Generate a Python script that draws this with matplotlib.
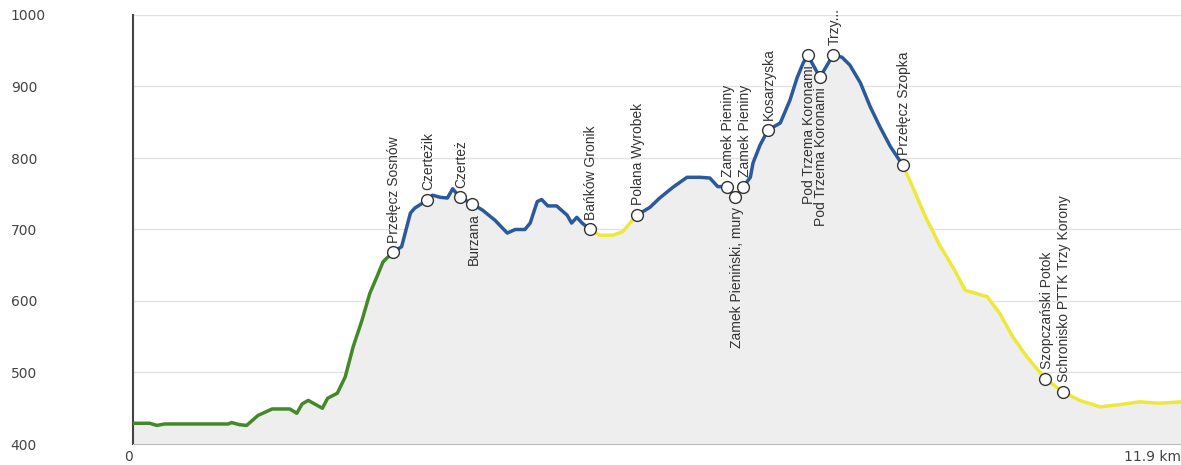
import matplotlib
matplotlib.use('Agg')
import matplotlib.pyplot as plt

# profile data: distance [km], elevation [m]
green_km = [0.00, 0.19, 0.27, 0.36, 0.76, 1.08, 1.12, 1.21, 1.29, 1.42, 1.58, 1.78, 1.86,
            1.92, 1.99, 2.15, 2.21, 2.32, 2.41, 2.50, 2.60, 2.69, 2.77, 2.84, 2.95]
green_el = [429, 429, 426, 428, 428, 428, 430, 427, 426, 440, 449, 449, 443,
            456, 461, 450, 464, 471, 494, 536, 573, 611, 634, 655, 668]

blue1_km = [2.95, 3.05, 3.15, 3.20, 3.34, 3.40, 3.49, 3.57, 3.63, 3.71, 3.85, 3.97, 4.11,
            4.25, 4.34, 4.45, 4.51, 4.59, 4.64, 4.71, 4.81, 4.93, 4.98, 5.04, 5.10, 5.19]
blue1_el = [668, 676, 723, 730, 741, 748, 745, 744, 757, 745, 736, 727, 713,
            695, 700, 700, 709, 739, 742, 733, 733, 720, 709, 717, 709, 700]

yellow1_km = [5.19, 5.30, 5.45, 5.56, 5.72]
yellow1_el = [700, 692, 692, 697, 720]

blue2_km = [5.72, 5.87, 5.98, 6.13, 6.29, 6.44, 6.55, 6.64, 6.74, 6.84, 6.93, 7.01, 7.04,
            7.12, 7.21, 7.35, 7.46, 7.54, 7.61, 7.66, 7.80, 7.95, 8.05, 8.14, 8.26,
            8.37, 8.48, 8.60, 8.74]
blue2_el = [720, 731, 744, 759, 773, 773, 772, 760, 760, 745, 760, 773, 793,
            818, 839, 849, 881, 912, 933, 944, 913, 944, 941, 930, 905,
            872, 844, 816, 790]

yellow2_km = [8.74, 8.82, 8.99, 9.16, 9.33, 9.45, 9.56, 9.70, 9.84, 9.99, 10.15, 10.36,
              10.56, 10.75, 10.98, 11.20, 11.43, 11.66, 11.90]
yellow2_el = [790, 769, 720, 678, 643, 615, 611, 606, 583, 550, 522, 491,
              473, 461, 452, 455, 459, 457, 459]

# waypoints
wp_km = [2.95, 3.34, 3.71, 3.85, 5.19, 5.72, 6.74, 6.84, 6.93, 7.21, 7.66, 7.80, 7.95,
         8.74, 10.36, 10.56]
wp_el = [668, 741, 745, 736, 700, 720, 760, 745, 760, 839, 944, 913, 944, 790, 491, 473]
wp_names = ['Przełęcz Sosnów', 'Czerteżik', 'Czerteż', 'Burzana', 'Bańków Gronik',
            'Polana Wyrobek', 'Zamek Pieniny', 'Zamek Pieniński, mury', 'Zamek Pieniny',
            'Kosarzyska', 'Pod Trzema Koronami', 'Pod Trzema Koronami', 'Trzy...',
            'Przełęcz Szopka', 'Szopczański Potok', 'Schronisko PTTK Trzy Korony']
wp_below = [False, False, False, True, False, False, False, True, False,
            False, True, True, False, False, False, False]

y_ticks = [400, 500, 600, 700, 800, 900, 1000]
x_ticks = [0, 11.9]
x_tick_labels = ['0', '11.9 km']

fig = plt.figure(figsize=(11.81, 4.65), dpi=100)
ax = fig.add_axes([133 / 1181, 21 / 465, 1 - 133 / 1181, 429 / 465])

all_km = green_km + blue1_km[1:] + yellow1_km[1:] + blue2_km[1:] + yellow2_km[1:]
all_el = green_el + blue1_el[1:] + yellow1_el[1:] + blue2_el[1:] + yellow2_el[1:]
ax.fill_between(all_km, all_el, 400, color='#eeeeee', lw=0, zorder=1)

ax.plot(green_km, green_el, color='#44882a', lw=2.5, zorder=3)
ax.plot(blue1_km, blue1_el, color='#2a5a9c', lw=2.5, zorder=3)
ax.plot(yellow1_km, yellow1_el, color='#eee83a', lw=2.5, zorder=3)
ax.plot(blue2_km, blue2_el, color='#2a5a9c', lw=2.5, zorder=3)
ax.plot(yellow2_km, yellow2_el, color='#eee83a', lw=2.5, zorder=3)

ax.plot(wp_km, wp_el, 'o', ms=8.5, mfc='white', mec='#333333', mew=1.0, zorder=4)

for k, e, name, below in zip(wp_km, wp_el, wp_names, wp_below):
    off = -7 if below else 7
    ax.annotate(name, (k, e), xytext=(1, off), textcoords='offset points',
                rotation=90, ha='center', va='top' if below else 'bottom',
                fontsize=10, family='Liberation Sans', color='#333333', zorder=5)

ax.set_xlim(0, 11.9)
ax.set_ylim(400, 1000)
ax.set_yticks(y_ticks)
ax.set_xticks(x_ticks)
ax.set_xticklabels(x_tick_labels)
ax.grid(axis='y', color='#e2e2e2', lw=1)
ax.set_axisbelow(True)

ax.tick_params(axis='y', length=0, pad=88, labelsize=10, labelcolor='#444444')
ax.tick_params(axis='x', length=0, pad=4, labelsize=10, labelcolor='#444444')
for lab in ax.get_yticklabels():
    lab.set_horizontalalignment('left')
xl = ax.get_xticklabels()
xl[0].set_horizontalalignment('right')
xl[1].set_horizontalalignment('right')

for s in ['top', 'right']:
    ax.spines[s].set_visible(False)
ax.spines['left'].set_color('#444444')
ax.spines['left'].set_linewidth(1.5)
ax.spines['bottom'].set_color('#bbbbbb')

fig.savefig('out.png', dpi=100)
